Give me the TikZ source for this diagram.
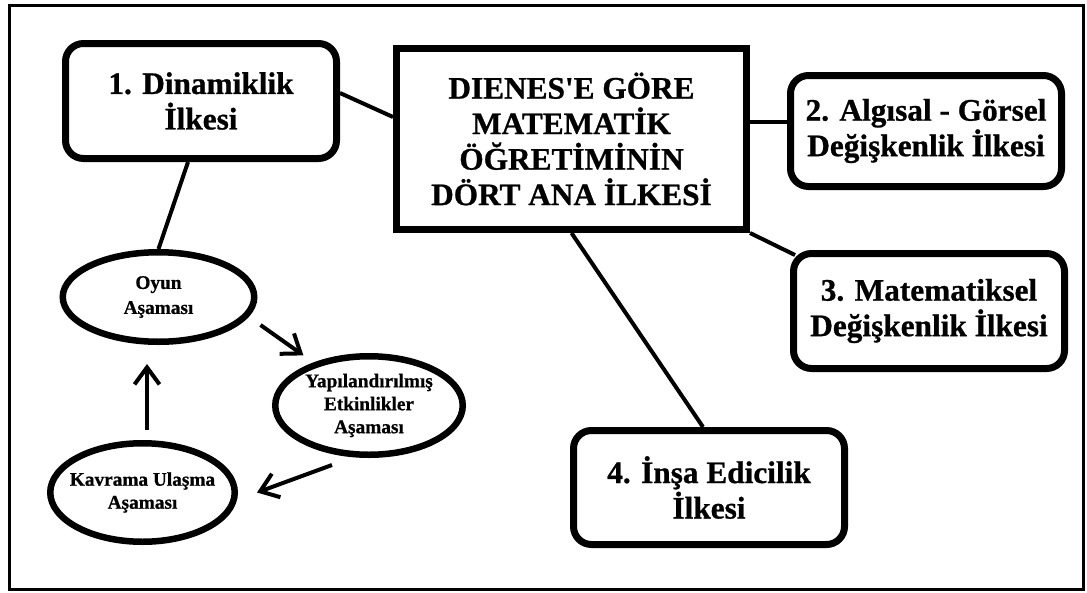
\documentclass[tikz,border=0pt]{standalone}
\usepackage{fontspec}
\setmainfont{Liberation Serif}[BoldFeatures={FakeBold=0.8}]
\usetikzlibrary{shapes.geometric,arrows.meta}
\newcommand\bigfnt{\fontsize{31.3}{35.5}\selectfont\bfseries}
\newcommand\smallfnt{\fontsize{19.3}{23}\selectfont\bfseries}
\begin{document}
\begin{tikzpicture}[x=1pt,y=-1pt,
  box/.style={draw,line width=7pt,rounded corners=18pt,minimum width=271pt,
    align=center,font=\bigfnt,inner sep=0pt,fill=white},
  cbox/.style={draw,line width=7pt,minimum width=350pt,minimum height=181pt,
    align=center,font=\bigfnt,inner sep=0pt,fill=white},
  ell/.style={draw,ellipse,line width=6.5pt,inner sep=-14pt,align=center,font=\smallfnt,fill=white},
  con/.style={line width=4pt},
  arr/.style={line width=4pt,-{Straight Barb[length=17pt,width=25pt]}}]
\useasboundingbox (0,0) rectangle (1087,592);
\fill[white] (0,0) rectangle (1087,592);
\draw[line width=3pt] (9,5) rectangle (1083,589);

\node[box,minimum height=115pt] (b1) at (201,101) {1. Dinamiklik\\İlkesi};
\node[cbox] (c) at (571.5,139) {DIENES\textquotesingle E GÖRE\\MATEMATİK\\ÖĞRETİMİNİN\\DÖRT ANA İLKESİ};
\node[box,minimum height=111pt] (b2) at (926,131) {2. Algısal - Görsel\\Değişkenlik İlkesi};
\node[box,minimum height=115pt] (b3) at (929,311) {3. Matematiksel\\Değişkenlik İlkesi};
\node[box,minimum height=114pt] (b4) at (709,487.5) {4. İnşa Edicilik\\İlkesi};

\node[ell,minimum width=191.5pt,minimum height=89.5pt,font=\fontsize{19.3}{25}\selectfont\bfseries] (oyun) at (158.5,297) {Oyun\\Aşaması};
\node[ell,minimum width=187.5pt,minimum height=98.5pt] (yap) at (369,405.5) {Yapılandırılmış\\Etkinlikler\\Aşaması};
\node[ell,minimum width=184.5pt,minimum height=98.5pt] (kav) at (142.5,492.5) {Kavrama Ulaşma\\Aşaması};

\draw[con] ([shift={(0,-8)}]b1.east) -- ([shift={(0,-22)}]c.west);
\draw[con] ([shift={(0,-17)}]c.east) -- ([shift={(0,-9)}]b2.west);
\draw[con] (c.south east) -- ([shift={(5,5)}]b3.north west);
\draw[con] (c.south) -- ([shift={(-6,0)}]b4.north);
\draw[con] ([shift={(-13,0)}]b1.south) -- (oyun.north);

\draw[arr] ([shift={(3,28)}]oyun.east) -- ([shift={(3,-13)}]yap.north west);
\draw[arr] ([shift={(-37,7)}]yap.south) -- ([shift={(19,0)}]kav.east);
\draw[arr] ([shift={(4.5,-10)}]kav.north) -- ([shift={(-11.5,19)}]oyun.south);
\end{tikzpicture}
\end{document}
